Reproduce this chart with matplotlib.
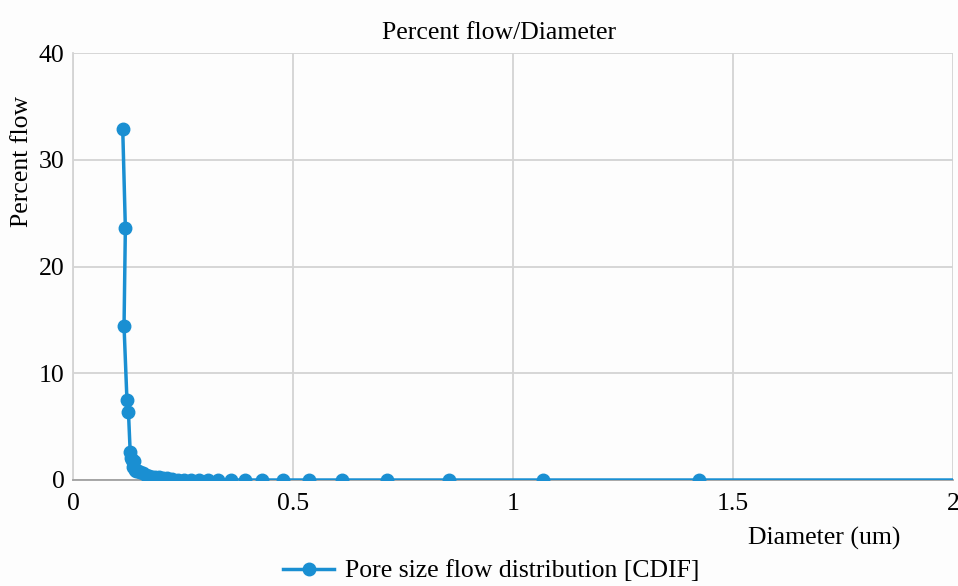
import matplotlib
matplotlib.use("Agg")
import matplotlib.pyplot as plt

diameter = [0.113, 0.119, 0.116, 0.1226, 0.126, 0.130, 0.132, 0.134, 0.136, 0.138,
            0.140, 0.143, 0.148, 0.153, 0.159, 0.165, 0.172, 0.179, 0.187, 0.195,
            0.204, 0.2145, 0.226, 0.238, 0.252, 0.268, 0.286, 0.306, 0.330, 0.358,
            0.390, 0.429, 0.477, 0.536, 0.611, 0.714, 0.855, 1.068, 1.423, 2.145]
percent_flow = [32.9, 23.6, 14.4, 7.5, 6.4, 2.6, 2.1, 1.9, 1.2, 1.8,
                0.9, 0.85, 0.8, 0.75, 0.7, 0.5, 0.4, 0.3, 0.3, 0.25,
                0.2, 0.15, 0.05, 0.0, 0.0, 0.0, 0.0, 0.0, 0.0, 0.0,
                0.0, 0.0, 0.0, 0.0, 0.0, 0.0, 0.0, 0.0, 0.0, 0.0]
x_ticks = [0, 0.5, 1, 1.5, 2]
x_tick_labels = ["0", "0.5", "1", "1.5", "2"]
y_ticks = [0, 10, 20, 30, 40]

plt.rcParams['font.family'] = ['Liberation Serif', 'DejaVu Serif']
FS = 18.5

fig = plt.figure(figsize=(9.58, 5.86), dpi=100, facecolor='#fdfdfd')
ax = fig.add_axes([73/958, 1 - 480/586, 880/958, 427/586])
ax.set_facecolor('#fdfdfd')

color = '#1a8fd2'
ax.plot(diameter, percent_flow, color=color, lw=2.5, marker='o', ms=9,
        label='Pore size flow distribution [CDIF]', clip_on=True, zorder=3)

ax.set_xlim(0, 2)
ax.set_ylim(0, 40)
ax.set_xticks(x_ticks)
ax.set_xticklabels(x_tick_labels)
ax.set_yticks(y_ticks)
ax.tick_params(axis='both', length=0, labelsize=FS, colors='black')
ax.tick_params(axis='x', pad=9)
ax.tick_params(axis='y', pad=6)
ax.grid(True, color='#d4d4d4', lw=1.3)
ax.set_axisbelow(True)
for side in ['top', 'right']:
    ax.spines[side].set_visible(False)
ax.spines['left'].set_color('#d4d4d4')
ax.spines['left'].set_linewidth(1.3)
ax.spines['bottom'].set_color('#a0a0a0')
ax.spines['bottom'].set_linewidth(1.3)

ax.set_title('Percent flow/Diameter', fontsize=FS, pad=10, x=(499 - 73) / 880)
ax.set_ylabel('Percent flow', fontsize=FS)
ax.yaxis.set_label_coords(-0.045, 0.747)
ax.set_xlabel('Diameter (um)', fontsize=FS)
ax.xaxis.set_label_coords((824 - 73) / 880, -0.11)

fig.legend(loc='center', bbox_to_anchor=(491/958, 1 - 571/586), frameon=False,
           fontsize=FS, handlelength=2.0, handletextpad=0.4)

fig.savefig('out.png', dpi=100, facecolor=fig.get_facecolor())
